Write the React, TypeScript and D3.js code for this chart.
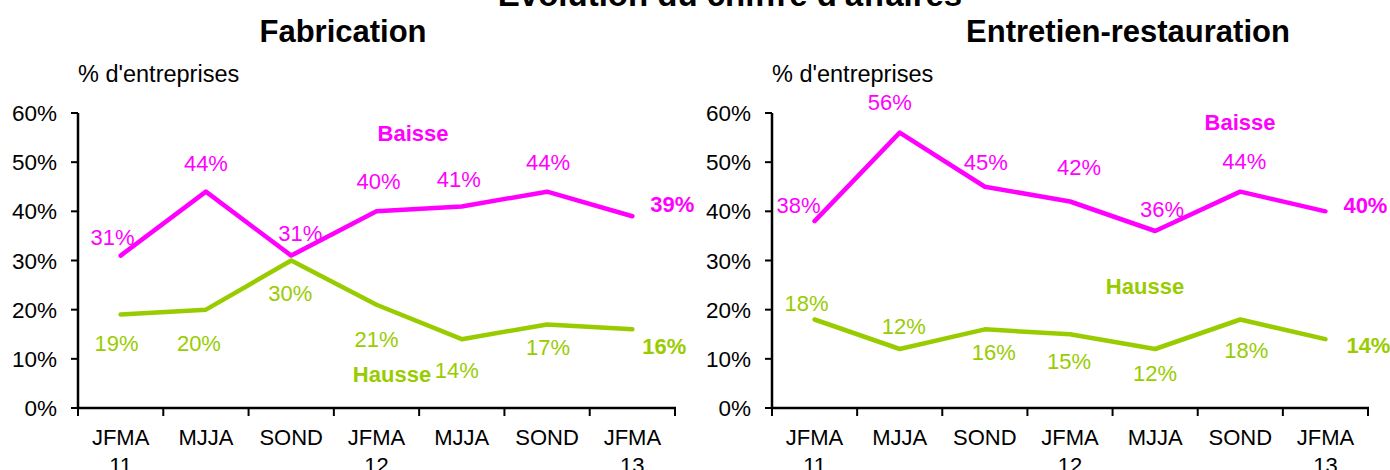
import React, { useEffect, useRef } from 'react';
import * as d3 from 'd3';

// Data
const periods = ['JFMA', 'MJJA', 'SOND', 'JFMA', 'MJJA', 'SOND', 'JFMA'];
const years = ['11', '', '', '12', '', '', '13'];
const yTicks = [0, 10, 20, 30, 40, 50, 60];

const fabBaisse = [31, 44, 31, 40, 41, 44, 39];
const fabHausse = [19, 20, 30, 21, 14, 17, 16];
const entBaisse = [38, 56, 45, 42, 36, 44, 40];
const entHausse = [18, 12, 16, 15, 12, 18, 14];

// label placement (layout, px offsets from point)
const fabBaisseOff = [[-8, -19], [0, -29], [9, -23], [2, -30], [-3, -27], [1, -30], [40, -12]];
const fabHausseOff = [[-4, 28], [-7, 33], [-1, 32], [0, 34], [-5, 31], [1, 23], [32, 17]];
const entBaisseOff = [[-16, -16], [-10, -31], [1, -25], [9, -35], [7, -22], [4, -31], [40, -6]];
const entHausseOff = [[-8, -17], [4, -23], [9, 23], [-1, 27], [0, 24], [6, 30], [43, 6]];

const MAGENTA = '#FF00FF';
const GREEN = '#99CC00';
const FONT = '"Liberation Sans", Arial, sans-serif';

type Panel = {
  title: string;
  titleX: number;
  left: number;
  right: number;
  baisse: number[];
  hausse: number[];
  bOff: number[][];
  hOff: number[][];
  baisseLbl: [number, number];
  hausseLbl: [number, number];
};

const panels: Panel[] = [
  {
    title: 'Fabrication', titleX: 343, left: 78, right: 675,
    baisse: fabBaisse, hausse: fabHausse, bOff: fabBaisseOff, hOff: fabHausseOff,
    baisseLbl: [413, 141], hausseLbl: [392, 382]
  },
  {
    title: 'Entretien-restauration', titleX: 1128, left: 772, right: 1368,
    baisse: entBaisse, hausse: entHausse, bOff: entBaisseOff, hOff: entHausseOff,
    baisseLbl: [1240, 130], hausseLbl: [1145, 294]
  }
];

export default function App() {
  const svgRef = useRef<SVGSVGElement>(null);

  useEffect(() => {
    const svg = d3.select(svgRef.current);
    svg.selectAll('*').remove();

    const width = 1390;
    const height = 470;
    svg.attr('width', width).attr('height', height).style('font-family', FONT);

    svg.append('rect').attr('width', width).attr('height', height).attr('fill', '#fff');

    // main title (cut off at top in the original)
    svg.append('text')
      .attr('x', 730).attr('y', 6)
      .attr('text-anchor', 'middle')
      .attr('font-size', 33).attr('font-weight', 'bold')
      .attr('fill', '#000')
      .text('Évolution  du chiffre d\'affaires');

    const yScale = d3.scaleLinear().domain([0, 60]).range([408, 113]);

    panels.forEach(p => {
      const g = svg.append('g');
      const xScale = d3.scaleBand<number>()
        .domain(d3.range(periods.length))
        .range([p.left, p.right])
        .paddingInner(0).paddingOuter(0);
      const cx = (i: number) => (xScale(i) as number) + xScale.bandwidth() / 2;

      // panel title
      g.append('text')
        .attr('x', p.titleX).attr('y', 42)
        .attr('text-anchor', 'middle')
        .attr('font-size', 31).attr('font-weight', 'bold')
        .text(p.title);

      g.append('text')
        .attr('x', p.left).attr('y', 82)
        .attr('font-size', 23.5)
        .text('% d\'entreprises');

      // y axis
      g.append('line')
        .attr('x1', p.left).attr('x2', p.left)
        .attr('y1', yScale(60)).attr('y2', yScale(0))
        .attr('stroke', '#000').attr('stroke-width', 2.5);
      yTicks.forEach(t => {
        g.append('line')
          .attr('x1', p.left - 7).attr('x2', p.left)
          .attr('y1', yScale(t)).attr('y2', yScale(t))
          .attr('stroke', '#000').attr('stroke-width', 2);
        g.append('text')
          .attr('x', p.left - 21).attr('y', yScale(t) + 8)
          .attr('text-anchor', 'end')
          .attr('font-size', 22.5)
          .text(`${t}%`);
      });

      // x axis
      g.append('line')
        .attr('x1', p.left - 1).attr('x2', p.right + 1)
        .attr('y1', yScale(0)).attr('y2', yScale(0))
        .attr('stroke', '#000').attr('stroke-width', 2.5);
      d3.range(periods.length + 1).forEach(i => {
        const x = i < periods.length ? (xScale(i) as number) : p.right;
        g.append('line')
          .attr('x1', x).attr('x2', x)
          .attr('y1', yScale(0)).attr('y2', yScale(0) + 8)
          .attr('stroke', '#000').attr('stroke-width', 2);
      });
      periods.forEach((lab, i) => {
        g.append('text')
          .attr('x', cx(i)).attr('y', 445)
          .attr('text-anchor', 'middle')
          .attr('font-size', 22)
          .text(lab);
        if (years[i]) {
          g.append('text')
            .attr('x', cx(i)).attr('y', 473)
            .attr('text-anchor', 'middle')
            .attr('font-size', 22)
            .text(years[i]);
        }
      });

      const line = d3.line<number>()
        .x((_, i) => cx(i))
        .y(d => yScale(d));

      const series = [
        { vals: p.hausse, color: GREEN, off: p.hOff },
        { vals: p.baisse, color: MAGENTA, off: p.bOff }
      ];

      series.forEach(s => {
        g.append('path')
          .datum(s.vals)
          .attr('d', line)
          .attr('fill', 'none')
          .attr('stroke', s.color)
          .attr('stroke-width', 4.5)
          .attr('stroke-linejoin', 'round')
          .attr('stroke-linecap', 'round');
      });

      series.forEach(s => {
        s.vals.forEach((v, i) => {
          const last = i === s.vals.length - 1;
          g.append('text')
            .attr('x', cx(i) + s.off[i][0])
            .attr('y', yScale(v) + s.off[i][1] + 8)
            .attr('text-anchor', 'middle')
            .attr('font-size', 22)
            .attr('font-weight', last ? 'bold' : 'normal')
            .attr('fill', s.color)
            .text(`${v}%`);
        });
      });

      g.append('text')
        .attr('x', p.baisseLbl[0]).attr('y', p.baisseLbl[1])
        .attr('text-anchor', 'middle')
        .attr('font-size', 22).attr('font-weight', 'bold')
        .attr('fill', MAGENTA)
        .text('Baisse');
      g.append('text')
        .attr('x', p.hausseLbl[0]).attr('y', p.hausseLbl[1])
        .attr('text-anchor', 'middle')
        .attr('font-size', 22).attr('font-weight', 'bold')
        .attr('fill', GREEN)
        .text('Hausse');
    });
  }, []);

  return (
    <svg ref={svgRef} style={{ position: 'absolute', left: 0, top: 0, display: 'block' }} />
  );
}
